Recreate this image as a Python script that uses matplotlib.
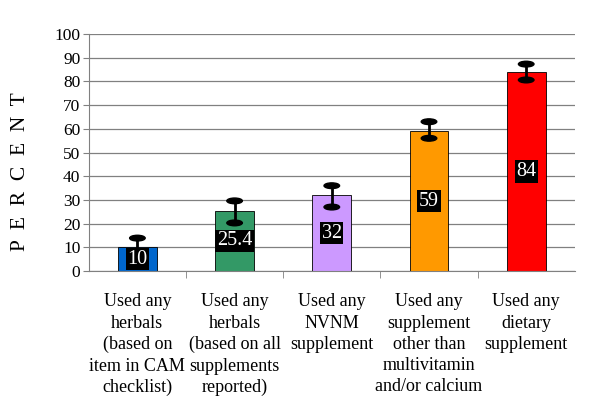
import numpy as np
import matplotlib.pyplot as plt
from matplotlib.patches import Ellipse

plt.rcParams['font.family'] = ['Liberation Serif', 'DejaVu Serif']

categories = [
    "Used any\nherbals\n(based on\nitem in CAM\nchecklist)",
    "Used any\nherbals\n(based on all\nsupplements\nreported)",
    "Used any\nNVNM\nsupplement",
    "Used any\nsupplement\nother than\nmultivitamin\nand/or calcium",
    "Used any\ndietary\nsupplement",
]
values = [10, 25.4, 32, 59, 84]
value_labels = ["10", "25.4", "32", "59", "84"]
err_low = [7.2, 20.3, 27.0, 56.0, 80.6]
err_high = [13.9, 29.6, 36.0, 63.0, 87.3]
colors = ["#0066CC", "#339966", "#CC99FF", "#FF9900", "#FF0000"]

fig = plt.figure(figsize=(6, 4.07), dpi=100)
ax = fig.add_axes([0.148, 0.334, 0.81, 0.5825])

x = np.arange(len(values))
ax.bar(x, values, width=0.4, color=colors, edgecolor="black", linewidth=0.6, zorder=2)

for xi, v, lo, hi, lab in zip(x, values, err_low, err_high, value_labels):
    ax.plot([xi, xi], [lo, hi], color="black", linewidth=2, zorder=3)
    for yy in (lo, hi):
        ax.add_patch(Ellipse((xi, yy), 0.16, 2.4, color="black", zorder=4))
    ax.text(xi, v / 2, lab, ha="center", va="center", color="white", fontsize=14.5,
            bbox=dict(facecolor="black", edgecolor="none", pad=1.2), zorder=5)

ax.set_ylim(0, 100)
ax.set_xlim(-0.5, len(values) - 0.5)
ax.set_yticks(np.arange(0, 101, 10))
ax.yaxis.grid(True, color="#808080", linewidth=0.9, zorder=0)
ax.set_axisbelow(True)

ax.set_xticks(x)
ax.set_xticklabels(categories, fontsize=13, linespacing=1.33)
ax.tick_params(axis="x", length=0, pad=16)
ax.set_xticks(np.arange(0.5, len(values) - 0.5, 1), minor=True)
ax.tick_params(axis="x", which="minor", length=5, color="#808080")
ax.tick_params(axis="y", labelsize=12.5, length=4, color="#808080", pad=2)

for s in ("top", "right"):
    ax.spines[s].set_visible(False)
for s in ("left", "bottom"):
    ax.spines[s].set_color("#808080")

ax.set_ylabel("P  E  R  C  E  N  T", fontsize=15.5)
ax.yaxis.set_label_coords(-0.121, 0.42)

fig.savefig("out.png", dpi=100)
